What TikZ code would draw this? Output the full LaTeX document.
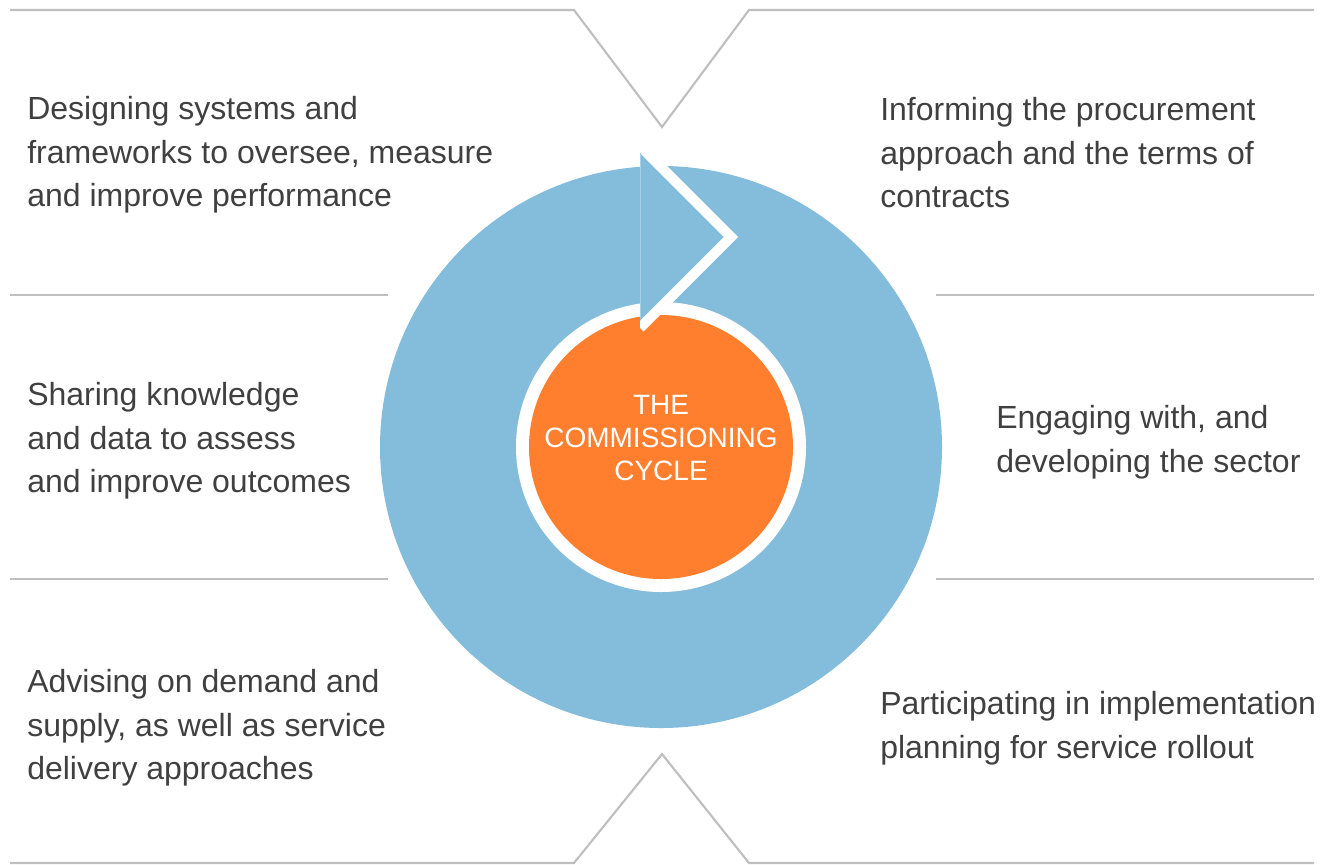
\documentclass[tikz,border=0pt]{standalone}
\usepackage{fontspec}
\setmainfont{Liberation Sans}
\usetikzlibrary{positioning}

\definecolor{ringblue}{HTML}{84BCDB}
\definecolor{seamblue}{HTML}{A9D0E6}
\definecolor{coreorange}{HTML}{FF7F2F}
\definecolor{rulegray}{HTML}{BFBFBF}
\definecolor{textgray}{HTML}{404040}

\tikzset{
  task/.style={anchor=west, align=left, text=textgray, inner sep=0pt,
    font=\fontsize{24}{32.6}\selectfont},
  divider/.style={draw=rulegray, line width=1.6pt},
  core/.style={circle, fill=coreorange, text=white, align=center, inner sep=0pt,
    minimum size=198pt, font=\fontsize{21}{24.6}\selectfont},
}

\begin{document}
\begin{tikzpicture}[x=0.75pt,y=-0.75pt]
  \useasboundingbox (0,0) rectangle (1330,864);

  % dividers
  \draw[divider] (10,10) -- (574,10) -- (662,127) -- (749,10) -- (1314,10);
  \draw[divider] (10,863) -- (574,863) -- (662,754) -- (749,863) -- (1314,863);
  \draw[divider] (10,295) -- (388,295);
  \draw[divider] (10,579) -- (388,579);
  \draw[divider] (936,295) -- (1314,295);
  \draw[divider] (936,579) -- (1314,579);

  % ring and centre
  \fill[ringblue] (661,447) circle [radius=281];
  \fill[white] (661,447) circle [radius=145];
  \path (661,447) node[core] (cycle) {};
  \path (661,438) node[core, fill=none, minimum size=0pt] (label) {THE\\COMMISSIONING\\CYCLE};

  % arrow head
  \fill[ringblue] (640,146) -- (731,237) -- (640,328) -- cycle;
  \begin{scope}
    \clip (640,100) rectangle (800,360);
    \draw[white, line width=7.5pt, line join=miter] (640,146) -- (731,237) -- (640,328);
  \end{scope}
  \draw[seamblue, line width=0.6pt] (640,153) -- (640,318);

  % tasks
  \path (27,155) node[task] (design) {Designing systems and\\frameworks to oversee, measure\\and improve performance};
  \path (27,441) node[task] (share) {Sharing knowledge\\and data to assess\\and improve outcomes};
  \path (27,728) node[task] (advise) {Advising on demand and\\supply, as well as service\\delivery approaches};
  \path (880,153) node[task] (inform) {Informing the procurement\\approach and the terms of\\contracts};
  \path (996,442) node[task] (engage) {Engaging with, and\\developing the sector};
  \path (880,728) node[task] (rollout) {Participating in implementation\\planning for service rollout};
\end{tikzpicture}
\end{document}
